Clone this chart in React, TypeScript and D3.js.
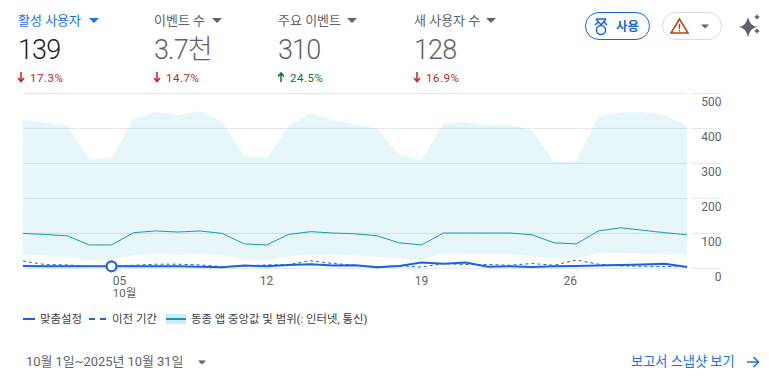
import React from "react";
import * as d3 from "d3";

const FONT = "Roboto, 'Noto Sans CJK KR', sans-serif";
const BLUE = "#1a62e0";

const days = d3.range(31);
const bandUpper = [426,416,409,312,315,426,446,438,449,419,321,315,407,444,424,412,398,324,310,414,418,409,409,395,304,306,435,446,446,438,407];
const bandLower = [38,37,33,24,24,38,41,40,41,38,26,24,35,39,39,37,33,28,26,41,41,41,41,35,28,28,45,44,42,40,40];
const median = [100,97,93,67,67,102,107,104,107,100,70,67,97,105,101,99,93,73,67,101,101,101,101,96,73,70,107,116,109,102,96];
const current = [7,6,6,6,6,6,6,6,5,3,8,6,10,12,8,9,3,7,17,13,17,5,6,4,6,7,8,10,11,13,4];
const previous = [21,11,10,6,5,9,12,12,10,5,7,10,11,22,14,9,5,7,4,14,11,11,9,14,9,24,12,7,6,5,7];
const yTicks = [0,100,200,300,400,500];
const xTicks = [
  { index: 4, label: "05", sub: "10월", dx: 8 },
  { index: 11, label: "12", dx: 0 },
  { index: 18, label: "19", dx: 0 },
  { index: 25, label: "26", dx: -6 },
];
const metrics = [
  { title: "활성 사용자", value: "139", delta: "17.3%", up: false, x: 18, active: true, caret: 94 },
  { title: "이벤트 수", value: "3.7천", delta: "14.7%", up: false, x: 154, active: false, caret: 217 },
  { title: "주요 이벤트", value: "310", delta: "24.5%", up: true, x: 278, active: false, caret: 352 },
  { title: "새 사용자 수", value: "128", delta: "16.9%", up: false, x: 414, active: false, caret: 491 },
];

export default function App() {
  const x = d3.scaleLinear().domain([0, 30]).range([23, 687]);
  const y = d3.scaleLinear().domain([0, 500]).range([268.4, 93.4]);
  const line = d3.line<number>().x((_, i) => x(i)).y((d) => y(d));
  const area = d3.area<number>().x((d) => x(d)).y0((d) => y(bandLower[d])).y1((d) => y(bandUpper[d]));

  return (
    <svg width={769} height={382} style={{ position: "absolute", left: 0, top: 0, background: "#fff" }} fontFamily={FONT}>
      {metrics.map((m) => {
        const col = m.active ? "#1a73e8" : "#5f6368";
        const dcol = m.up ? "#137333" : "#c5221f";
        const ax = m.x + 3;
        return (
          <g key={m.title}>
            <text x={m.x} y={25} fontSize={13} fill={col}>{m.title}</text>
            <path d={`M${m.caret - 5},18 h10 l-5,5 z`} fill={col} />
            <text x={m.x} y={59} fontSize={27} fontWeight={300} letterSpacing={-0.9} fill={m.active ? "#202124" : "#5f6368"}>{m.value}</text>
            <path
              d={m.up ? `M${ax},82 V74 M${ax - 3},76.5 L${ax},73 L${ax + 3},76.5` : `M${ax},72 V81 M${ax - 3},78 L${ax},81.5 L${ax + 3},78`}
              stroke={dcol} strokeWidth={1.5} fill="none"
            />
            <text x={m.x + 12} y={82} fontSize={11.5} fontWeight={400} letterSpacing={0.5} fill={dcol}>{m.delta}</text>
          </g>
        );
      })}

      <rect x={585.5} y={12.5} width={64} height={27} rx={13.5} fill="#fff" stroke="#1967d2" strokeWidth={1} />
      <g stroke="#1967d2" strokeWidth={1.5} fill="none">
        <path d="M596,19 L601,25 M606,19 L601,25 M596,19 H606 M598,22 L595,25 M604,22 L607,25" />
        <circle cx={601} cy={30} r={4.5} />
      </g>
      <text x={616} y={31} fontSize={12.5} fontWeight={700} fill="#1967d2">사용</text>
      <rect x={662.5} y={12.5} width={59} height={27} rx={13.5} fill="#fff" stroke="#dadce0" strokeWidth={1} />
      <path d="M679.5,19 L671,33 H688 Z" fill="none" stroke="#b8460f" strokeWidth={1.5} />
      <path d="M679.5,24 V29 M679.5,30 V31.6" stroke="#b8460f" strokeWidth={1.4} />
      <path d="M701,24.5 h8 l-4,4 z" fill="#5f6368" />
      <path d="M748,17 Q750,26 757,27 Q750,28 748,37 Q746,28 739,27 Q746,26 748,17 Z" fill="#5f6368" />
      <path d="M757,14 q.6,2.4 3,3 q-2.4,.6 -3,3 q-.6,-2.4 -3,-3 q2.4,-.6 3,-3 Z" fill="#5f6368" />
      <path d="M757,28 q.6,2.4 3,3 q-2.4,.6 -3,3 q-.6,-2.4 -3,-3 q2.4,-.6 3,-3 Z" fill="#5f6368" />

      {yTicks.map((t) => (
        <g key={t}>
          <line x1={23} x2={687} y1={y(t)} y2={y(t)} stroke="#e4e6e8" strokeWidth={1} />
          <line x1={691} x2={721} y1={y(t)} y2={y(t)} stroke="#e4e6e8" strokeWidth={1} />
          <text x={721.5} y={y(t) + 12.5} textAnchor="end" fontSize={12} fill="#5f6368">{t}</text>
        </g>
      ))}

      <path d={area(days) ?? ""} fill="#10a8c8" fillOpacity={0.105} />
      <path d={line(median) ?? ""} fill="none" stroke="#1a9aa8" strokeWidth={1} />
      <path d={line(previous) ?? ""} fill="none" stroke={BLUE} strokeWidth={1} strokeDasharray="3 3" />
      <path d={line(current) ?? ""} fill="none" stroke={BLUE} strokeWidth={2} />

      {xTicks.map((t) => (
        <g key={t.label}>
          <line x1={x(t.index)} x2={x(t.index)} y1={268} y2={273} stroke="#e4e6e8" />
          <text x={x(t.index) + t.dx} y={284.5} textAnchor="middle" fontSize={12} fill="#5f6368">{t.label}</text>
          {t.sub && <text x={x(t.index) + t.dx + 5} y={297} textAnchor="middle" fontSize={11.5} fill="#5f6368">{t.sub}</text>}
        </g>
      ))}
      <circle cx={x(4)} cy={y(current[4])} r={5} fill="#fff" stroke={BLUE} strokeWidth={2.2} />

      <line x1={23} x2={35} y1={319} y2={319} stroke={BLUE} strokeWidth={2} />
      <text x={40} y={323} fontSize={11.4} fill="#3c4043">맞춤설정</text>
      <line x1={89} x2={106} y1={319} y2={319} stroke={BLUE} strokeWidth={2} strokeDasharray="6 5" />
      <text x={112} y={323} fontSize={11.5} fill="#3c4043">이전 기간</text>
      <rect x={166} y={314} width={20} height={10} fill="#10a8c8" fillOpacity={0.2} />
      <line x1={166} x2={186} y1={319} y2={319} stroke="#1a9aa8" strokeWidth={2} />
      <text x={191} y={323} fontSize={11.4} fill="#3c4043">동종 앱 중앙값 및 범위(: 인터넷, 통신)</text>

      <text x={26} y={366} fontSize={12.9} fill="#5f6368">10월 1일~2025년 10월 31일</text>
      <path d="M198,360.5 h8 l-4,4 z" fill="#5f6368" />
      <text x={631} y={366} fontSize={13.2} fill="#1a73e8">보고서 스냅샷 보기</text>
      <path d="M747,362 H758 M753.5,357 L758.5,362 L753.5,367" fill="none" stroke="#1a73e8" strokeWidth={1.6} />
    </svg>
  );
}
